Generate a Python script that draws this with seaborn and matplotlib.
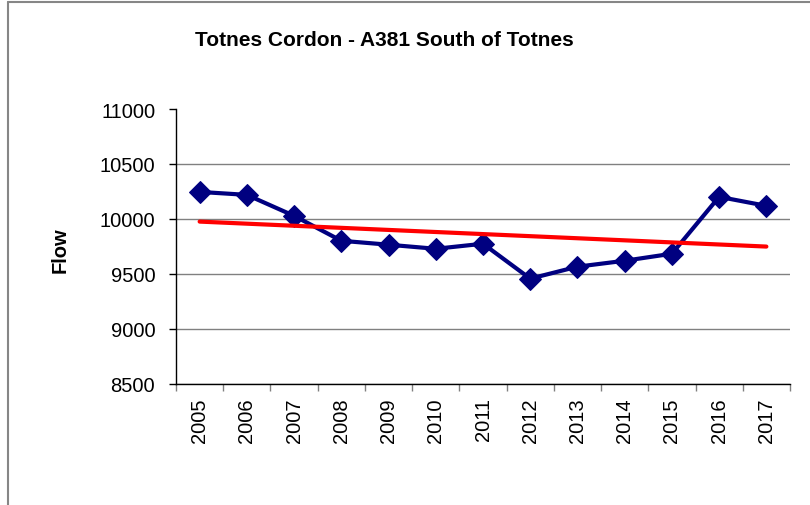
import numpy as np
import pandas as pd
import seaborn as sns
import matplotlib.pyplot as plt
from matplotlib.lines import Line2D
from matplotlib.ticker import MultipleLocator

# Data
years = [2005, 2006, 2007, 2008, 2009, 2010, 2011, 2012, 2013, 2014, 2015, 2016, 2017]
flow = [10245, 10218, 10027, 9800, 9764, 9727, 9773, 9455, 9564, 9618, 9682, 10200, 10118]

df = pd.DataFrame({"year": years, "flow": flow})

sns.set_theme(style="white")
plt.rcParams['font.family'] = ['Liberation Sans', 'DejaVu Sans']
plt.rcParams['text.color'] = 'black'
plt.rcParams['xtick.color'] = 'black'
plt.rcParams['ytick.color'] = 'black'
plt.rcParams['axes.labelcolor'] = 'black'

fig = plt.figure(figsize=(8.1, 5.06), dpi=100)
ax = fig.add_axes([0.2173, 0.2401, 0.9753 - 0.2173, 0.7826 - 0.2401])

# gridlines behind the data
ax.set_axisbelow(True)
ax.yaxis.grid(True, color="#808080", linewidth=1)

# data line with diamonds
sns.lineplot(data=df, x="year", y="flow", ax=ax, color="#000080", linewidth=3,
             marker="D", markersize=11, markeredgecolor="#000080", zorder=3)

# linear trendline (like Excel)
sns.regplot(data=df, x="year", y="flow", ax=ax, scatter=False, ci=None,
            line_kws={"color": "#FF0000", "linewidth": 3, "zorder": 4})

ax.set_xlim(2004.5, 2017.5)
ax.set_ylim(8500, 11000)
ax.set_yticks(np.arange(8500, 11001, 500))
ax.set_xticks(years)
ax.set_xticklabels([str(y) for y in years], rotation=90)
ax.xaxis.set_minor_locator(MultipleLocator(1, offset=0.5))

# hide gridline at the top
ax.get_ygridlines()[-1].set_visible(False)

ax.tick_params(axis="y", which="major", direction="out", length=5, width=1,
               color="black", labelcolor="black", labelsize=14.5, pad=10, left=True)
ax.tick_params(axis="x", which="major", length=0, labelcolor="black",
               labelsize=14.5, pad=10, bottom=True)
ax.tick_params(axis="x", which="minor", direction="out", length=5, width=1,
               color="#808080", bottom=True)

for s in ["top", "right"]:
    ax.spines[s].set_visible(False)
for s in ["left", "bottom"]:
    ax.spines[s].set_color("black")
    ax.spines[s].set_linewidth(1)

ax.set_xlabel("")
ax.set_ylabel("")
fig.text(60 / 810, 1 - 250 / 506, "Flow", rotation=90, fontsize=14.5,
         fontweight="bold", ha="center", va="center", color="black")
fig.text(384 / 810, 1 - 40 / 506, "Totnes Cordon - A381 South of Totnes",
         fontsize=15, fontweight="bold", ha="center", va="center", color="black")

# chart area border (only left and top visible)
x0 = 8 / 810
y0 = 1 - 3 / 506
fig.add_artist(Line2D([x0, x0], [0, y0], transform=fig.transFigure, color="#868686", linewidth=1.5))
fig.add_artist(Line2D([x0, 1], [y0, y0], transform=fig.transFigure, color="#868686", linewidth=1.5))

fig.savefig("out.png", dpi=100)
